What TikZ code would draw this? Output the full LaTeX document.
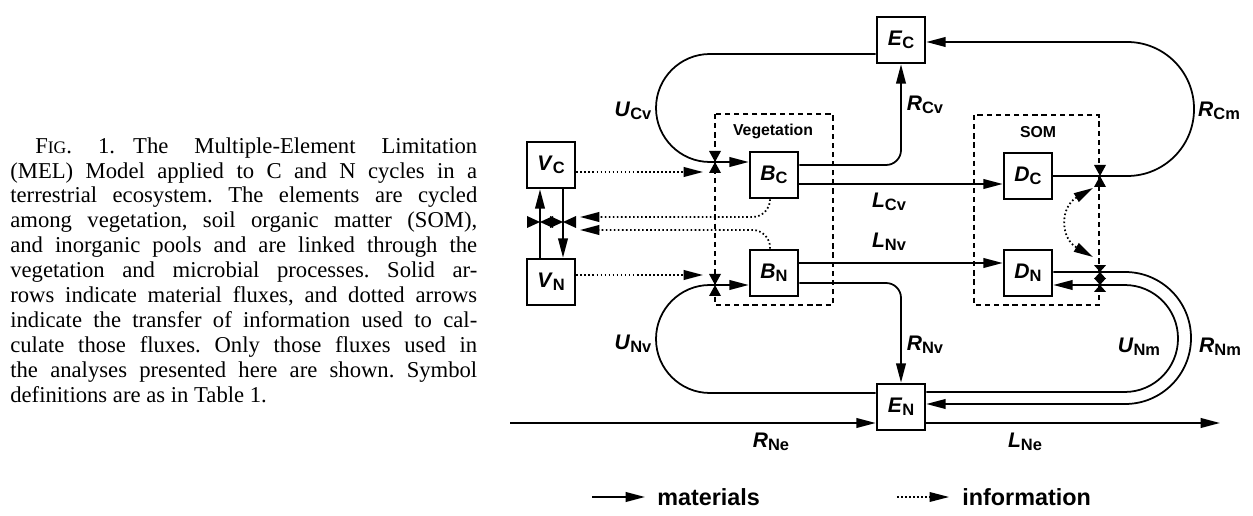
\documentclass[tikz,border=0pt]{standalone}
\usepackage{fontspec}
\setmainfont{Liberation Serif}
\newfontfamily\helv{Liberation Sans}
\usepackage{xcolor}
\usetikzlibrary{arrows.meta}

\newcommand{\sym}[2]{\textit{#1}\raisebox{-0.3ex}{\scalebox{0.78}{#2}}}

\tikzset{
    pool/.style={draw, line width=1.5pt, minimum width=0.96cm, minimum height=0.92cm, inner sep=0pt,
        font=\helv\bfseries\fontsize{12}{12}\selectfont},
    flux/.style={inner sep=0pt, font=\helv\bfseries\fontsize{12}{12}\selectfont},
    tip/.style={-{Triangle[length=11pt,width=5.5pt]}},
    mat/.style={line width=1pt, tip},
    line/.style={line width=1pt},
    info/.style={line width=1pt, dash pattern=on 0.9pt off 1.4pt, tip},
    group/.style={draw, line width=1.1pt, dash pattern=on 3pt off 2.2pt},
    valve/.pic={\fill (-6,-11) -- (6,-11) -- (0,0) -- cycle;
                \fill (-6,11) -- (6,11) -- (0,0) -- cycle;},
    hvalve/.pic={\fill (-13,-6) -- (-13,6) -- (0,0) -- cycle;
                 \fill (13,-6) -- (13,6) -- (0,0) -- cycle;}
}

\begin{document}
\frenchspacing
\begin{tikzpicture}[x=0.02cm, y=-0.02cm]
        \useasboundingbox (0,0) rectangle (1253,516);

        % caption
        \node[anchor=north west, text width=9.34cm, align=justify, inner sep=0pt,
            font=\fontsize{12.9}{14.2}\selectfont] (caption) at (10,137) {%
            \hspace*{1.1em}F{\fontsize{10}{10}\selectfont IG}. 1.\hspace{0.8em}The Multiple-Element Limitation\linebreak
            (MEL) Model applied to C and N cycles in a\linebreak
            terrestrial ecosystem. The elements are cycled\linebreak
            among vegetation, soil organic matter (SOM),\linebreak
            and inorganic pools and are linked through the\linebreak
            vegetation and microbial processes. Solid ar-\linebreak
            rows indicate material fluxes, and dotted arrows\linebreak
            indicate the transfer of information used to cal-\linebreak
            culate those fluxes. Only those fluxes used in\linebreak
            the analyses presented here are shown. Symbol\linebreak
            definitions are as in Table 1.};

        % groups
        \draw[group] (715,114) rectangle (833,305);
        \draw[group] (974,115) rectangle (1099,305);
        \node[flux, font=\helv\bfseries\fontsize{9}{9}\selectfont] (vegname) at (773,131) {Vegetation};
        \node[flux, font=\helv\bfseries\fontsize{9}{9}\selectfont] (somname) at (1038,132) {SOM};

        % pools
        \node[pool] (EC) at (901,40) {\sym{E}{C}};
        \node[pool] (BC) at (774,175) {\sym{B}{C}};
        \node[pool] (BN) at (774,273) {\sym{B}{N}};
        \node[pool] (DC) at (1028,176) {\sym{D}{C}};
        \node[pool] (DN) at (1028,273) {\sym{D}{N}};
        \node[pool] (EN) at (901,407) {\sym{E}{N}};
        \node[pool] (VC) at (551,165) {\sym{V}{C}};
        \node[pool] (VN) at (551,282) {\sym{V}{N}};

        \coordinate (vBC) at (715,162);
        \coordinate (vBN) at (715,285);
        \coordinate (vDC) at (1100,176);
        \coordinate (vDNa) at (1100,272);
        \coordinate (vDNb) at (1100,285);
        \coordinate (srcN) at (510,423);
        \coordinate (sinkN) at (1220,423);

        % carbon
        \draw[line, rounded corners=30.7pt] (EC.west |- 0,54) -- (656,54) -- (656,162) -- (vBC);
        \draw[mat] (vBC) -- (BC.west |- vBC);
        \draw[mat, rounded corners=8.5pt] (BC.east |- 0,165) -- (EC.south |- 0,165) -- (EC.south);
        \draw[mat] (BC.east |- 0,184) -- (DC.west |- 0,184);
        \draw[line] (DC.east) -- (vDC);
        \draw[mat, rounded corners=38pt] (vDC) -- (1194,176) -- (1194,42) -- (EC.east |- 0,42);

        % nitrogen
        \draw[line, rounded corners=30.7pt] (EN.west |- 0,393) -- (656,393) -- (656,285) -- (vBN);
        \draw[mat] (vBN) -- (BN.west |- vBN);
        \draw[mat] (BN.east |- 0,263) -- (DN.west |- 0,263);
        \draw[mat, rounded corners=8.5pt] (BN.east |- 0,283) -- (EN.north |- 0,283) -- (EN.north);
        \draw[mat, rounded corners=37.5pt] (DN.east |- vDNa) -- (1191,272) -- (1191,404) -- (EN.east |- 0,404);
        \draw[mat, rounded corners=30.4pt] (EN.east |- 0,392) -- (1178,392) -- (1178,285) -- (DN.east |- vDNb);
        \draw[mat] (srcN) -- (EN.west |- srcN);
        \draw[mat] (EN.east |- sinkN) -- (sinkN);

        % vegetation state
        \draw[mat] (VN.north -| 540,0) -- (VC.south -| 540,0);
        \draw[mat] (VC.south -| 563,0) -- (VN.north -| 563,0);

        % information
        \draw[info] (VC.east |- 0,172) -- (703,172);
        \draw[info] (VN.east |- 0,275) -- (703,275);
        \draw[info, rounded corners=10pt] (BC.south -| 770,0) -- (770,217) -- (580,217);
        \draw[info, rounded corners=10pt] (BN.north -| 770,0) -- (770,230) -- (580,230);
        \draw[info, {Triangle[length=11pt,width=5.5pt]}-{Triangle[length=11pt,width=5.5pt]}]
            (1093,188) .. controls (1060,207) and (1060,238) .. (1093,257);

        % valves
        \pic at (vBC) {valve};
        \pic at (vBN) {valve};
        \pic at (vDC) {valve};
        \pic[yscale=0.62] at (vDNa) {valve};
        \pic[yscale=0.62] at (vDNb) {valve};
        \pic at (540,222) {hvalve};
        \pic at (563,222) {hvalve};

        % flux names
        \node[flux] (UCv) at (633,111) {\sym{U}{Cv}};
        \node[flux] (RCv) at (925,105) {\sym{R}{Cv}};
        \node[flux] (RCm) at (1219,111) {\sym{R}{Cm}};
        \node[flux] (LCv) at (889,202) {\sym{L}{Cv}};
        \node[flux] (LNv) at (889,242) {\sym{L}{Nv}};
        \node[flux] (RNv) at (925,345) {\sym{R}{Nv}};
        \node[flux] (UNv) at (633,344) {\sym{U}{Nv}};
        \node[flux] (UNm) at (1139,347) {\sym{U}{Nm}};
        \node[flux] (RNm) at (1220,347) {\sym{R}{Nm}};
        \node[flux] (RNe) at (771,442) {\sym{R}{Ne}};
        \node[flux] (LNe) at (1025,442) {\sym{L}{Ne}};

        % legend
        \coordinate (matA) at (592,497);
        \coordinate (matB) at (645,497);
        \coordinate (infA) at (897,497);
        \coordinate (infB) at (949,497);
        \draw[mat] (matA) -- (matB);
        \draw[info, line width=0.7pt] (infA) -- (infB);
        \node[flux, anchor=west, font=\helv\bfseries\fontsize{13.3}{13.3}\selectfont] (matname) at (657,497) {materials};
        \node[flux, anchor=west, font=\helv\bfseries\fontsize{13.3}{13.3}\selectfont] (infname) at (962,497) {information};
    \end{tikzpicture}
\end{document}
